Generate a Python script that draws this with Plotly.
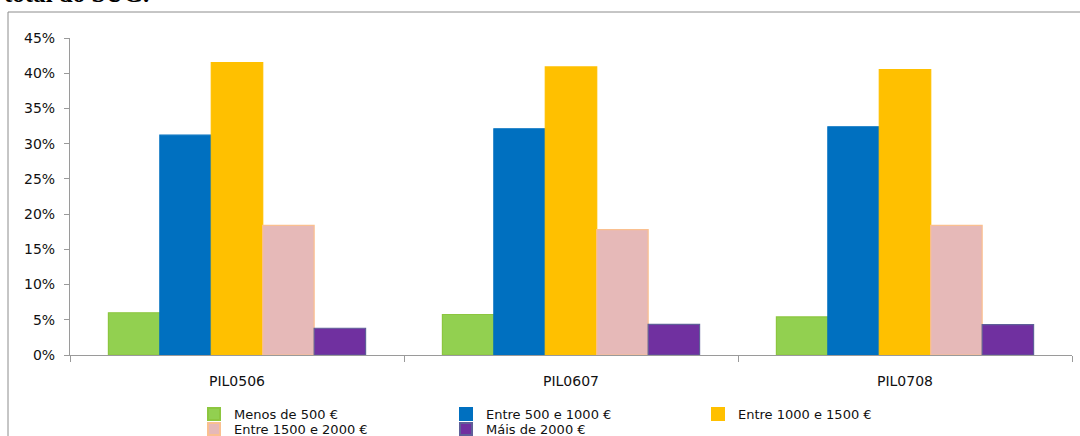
import plotly.graph_objects as go

categories = ["PIL0506", "PIL0607", "PIL0708"]
series_names = ["Menos de 500 €", "Entre 500 e 1000 €", "Entre 1000 e 1500 €",
                "Entre 1500 e 2000 €", "Máis de 2000 €"]
menos_500 = [0.060, 0.0575, 0.054]
entre_500_1000 = [0.312, 0.321, 0.324]
entre_1000_1500 = [0.415, 0.409, 0.405]
entre_1500_2000 = [0.184, 0.178, 0.184]
mais_2000 = [0.038, 0.0435, 0.043]
y_ticks = [0, 0.05, 0.10, 0.15, 0.20, 0.25, 0.30, 0.35, 0.40, 0.45]

fills = ["#92D050", "#0070C0", "#FFC000", "#E6B9B8", "#7030A0"]
borders = ["#8CC63F", "#0070C0", "#FFC000", "#FAC090", "#5F5F99"]
legend_rows = ["legend", "legend", "legend", "legend2", "legend2"]
values = [menos_500, entre_500_1000, entre_1000_1500, entre_1500_2000, mais_2000]

FONT = "DejaVu Sans"
fig = go.Figure()
for name, vals, fc, bc, lg in zip(series_names, values, fills, borders, legend_rows):
    fig.add_trace(go.Bar(x=categories, y=vals, name=name, legend=lg,
                         marker=dict(color=fc, line=dict(color=bc, width=1.2))))

W, H = 1080, 436
ml, mr, mt, mb = 70, 8, 38, 81
pw, ph = W - ml - mr, H - mt - mb

def px_x(x):
    return (x - ml) / pw

def px_y(y):
    return 1 - (y - mt) / ph

leg_common = dict(orientation="h", xanchor="left", yanchor="top",
                  entrywidth=207, entrywidthmode="pixels",
                  font=dict(family=FONT, size=13, color="#111111"),
                  itemsizing="constant", traceorder="normal", bgcolor="rgba(0,0,0,0)")

fig.update_layout(
    width=W, height=H,
    margin=dict(l=ml, r=mr, t=mt, b=mb, autoexpand=False),
    paper_bgcolor="white", plot_bgcolor="white",
    barmode="group", bargap=0.23, bargroupgap=0,
    font=dict(family=FONT, size=13, color="#222222"),
    showlegend=True,
    legend=dict(x=px_x(194), y=px_y(399), **leg_common),
    legend2=dict(x=px_x(194), y=px_y(414), **leg_common),
    xaxis=dict(showline=True, linecolor="#9a9a9a", linewidth=1.2,
               ticks="outside", tickson="boundaries", ticklen=6, tickcolor="#9a9a9a",
               showgrid=False, tickfont=dict(family=FONT, size=14, color="#111111"),
               ticklabelstandoff=13),
    yaxis=dict(range=[0, 0.45], tickvals=y_ticks, tickformat=".0%",
               showline=True, linecolor="#9a9a9a", linewidth=1.2,
               ticks="outside", ticklen=5, tickcolor="#9a9a9a",
               showgrid=False, zeroline=False, ticklabelstandoff=6,
               tickfont=dict(family=FONT, size=14, color="#111111")),
)

fig.add_shape(type="rect", xref="paper", yref="paper",
              x0=px_x(8), x1=px_x(1095), y0=px_y(460), y1=px_y(12),
              line=dict(color="#8c8c8c", width=1), fillcolor="rgba(0,0,0,0)", layer="below")

fig.add_annotation(text="<b>total do SUG.</b>", xref="paper", yref="paper",
                   x=px_x(2), y=px_y(9), xanchor="left", yanchor="bottom",
                   showarrow=False, font=dict(family="Liberation Serif", size=25, color="#000000"))

fig.write_html("out.html", config={"displayModeBar": False},
               post_script="document.body.style.margin='0';document.body.style.overflow='hidden';")
